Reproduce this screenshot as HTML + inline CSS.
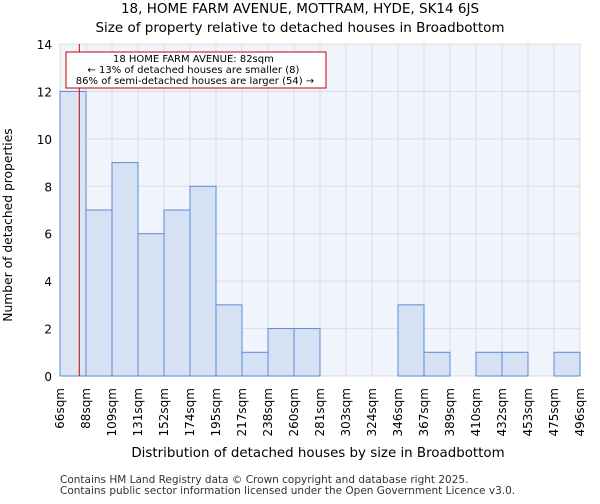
<!DOCTYPE html>
<html><head><meta charset="utf-8"><style>
body{margin:0;background:#fff;font-family:"DejaVu Sans","Liberation Sans",sans-serif}
</style></head><body>
<svg width="600" height="500" xmlns="http://www.w3.org/2000/svg" font-family="DejaVu Sans, Liberation Sans, sans-serif">
<text x="300" y="13" text-anchor="middle" font-size="13.5">18, HOME FARM AVENUE, MOTTRAM, HYDE, SK14 6JS</text>
<text x="300" y="32" text-anchor="middle" font-size="13.5">Size of property relative to detached houses in Broadbottom</text>
<rect x="60" y="44" width="520" height="332" fill="#f0f4fc"/>
<g id="grid"></g><g id="bars"></g><g id="xt"></g><g id="yt"></g>
<line x1="79.3" y1="44" x2="79.3" y2="376" stroke="#c00" stroke-width="1"/>
<rect x="66" y="52" width="260" height="36" fill="#fff" stroke="#c00" stroke-width="1"/>
<text font-size="10" text-anchor="middle">
<tspan x="195" y="62">18 HOME FARM AVENUE: 82sqm</tspan>
<tspan x="195" y="73">← 13% of detached houses are smaller (8)</tspan>
<tspan x="195" y="84">86% of semi-detached houses are larger (54) →</tspan></text>
<text x="318" y="457" text-anchor="middle" font-size="13.4">Distribution of detached houses by size in Broadbottom</text>
<text transform="translate(12,225) rotate(-90)" text-anchor="middle" font-size="12.3">Number of detached properties</text>
<text x="60" y="483" font-size="10.5" fill="#333">Contains HM Land Registry data © Crown copyright and database right 2025.</text>
<text x="60" y="494" font-size="10.5" fill="#333">Contains public sector information licensed under the Open Government Licence v3.0.</text>
</svg>
<script>
const edges=["66sqm","88sqm","109sqm","131sqm","152sqm","174sqm","195sqm","217sqm","238sqm","260sqm","281sqm","303sqm","324sqm","346sqm","367sqm","389sqm","410sqm","432sqm","453sqm","475sqm","496sqm"];
const counts=[12,7,9,6,7,8,3,1,2,2,0,0,0,3,1,0,1,1,0,1];
const yTicks=[0,2,4,6,8,10,12,14];
const NS="http://www.w3.org/2000/svg";
const X0=60,X1=580,Y0=376,Y1=44,YMAX=14;
const bw=(X1-X0)/counts.length;
const xs=i=>X0+i*bw, ys=v=>Y0-(v/YMAX)*(Y0-Y1);
function mk(t,a,p){const e=document.createElementNS(NS,t);for(const k in a)e.setAttribute(k,a[k]);document.getElementById(p).appendChild(e);return e;}
yTicks.forEach(v=>{
 const l=mk('line',{x1:X0,x2:X1,y1:ys(v),y2:ys(v),stroke:'#dcdcdc','stroke-width':1},'grid');
 
 
 const t=mk('text',{x:X0-8,y:ys(v)+5,'text-anchor':'end','font-size':12},'yt');
 t.textContent=v;
 
 
});
edges.forEach((lab,i)=>{
 const l=mk('line',{x1:xs(i),x2:xs(i),y1:Y1,y2:Y0,stroke:'#dcdcdc','stroke-width':1},'grid');
 
 
 const t=mk('text',{transform:`translate(${xs(i)+4},${Y0+12}) rotate(-90)`,'text-anchor':'end','font-size':12},'xt');
 t.textContent=lab;
 
 
});
counts.forEach((c,i)=>{
 if(c<=0)return;
 const r=mk('rect',{x:xs(i),y:ys(c),width:bw,height:Y0-ys(c),fill:i==0?'#dbe4f2':'#d6e1f4',stroke:'#5b8ad8','stroke-width':1},'bars');
 
 
});
</script>
</body></html>
